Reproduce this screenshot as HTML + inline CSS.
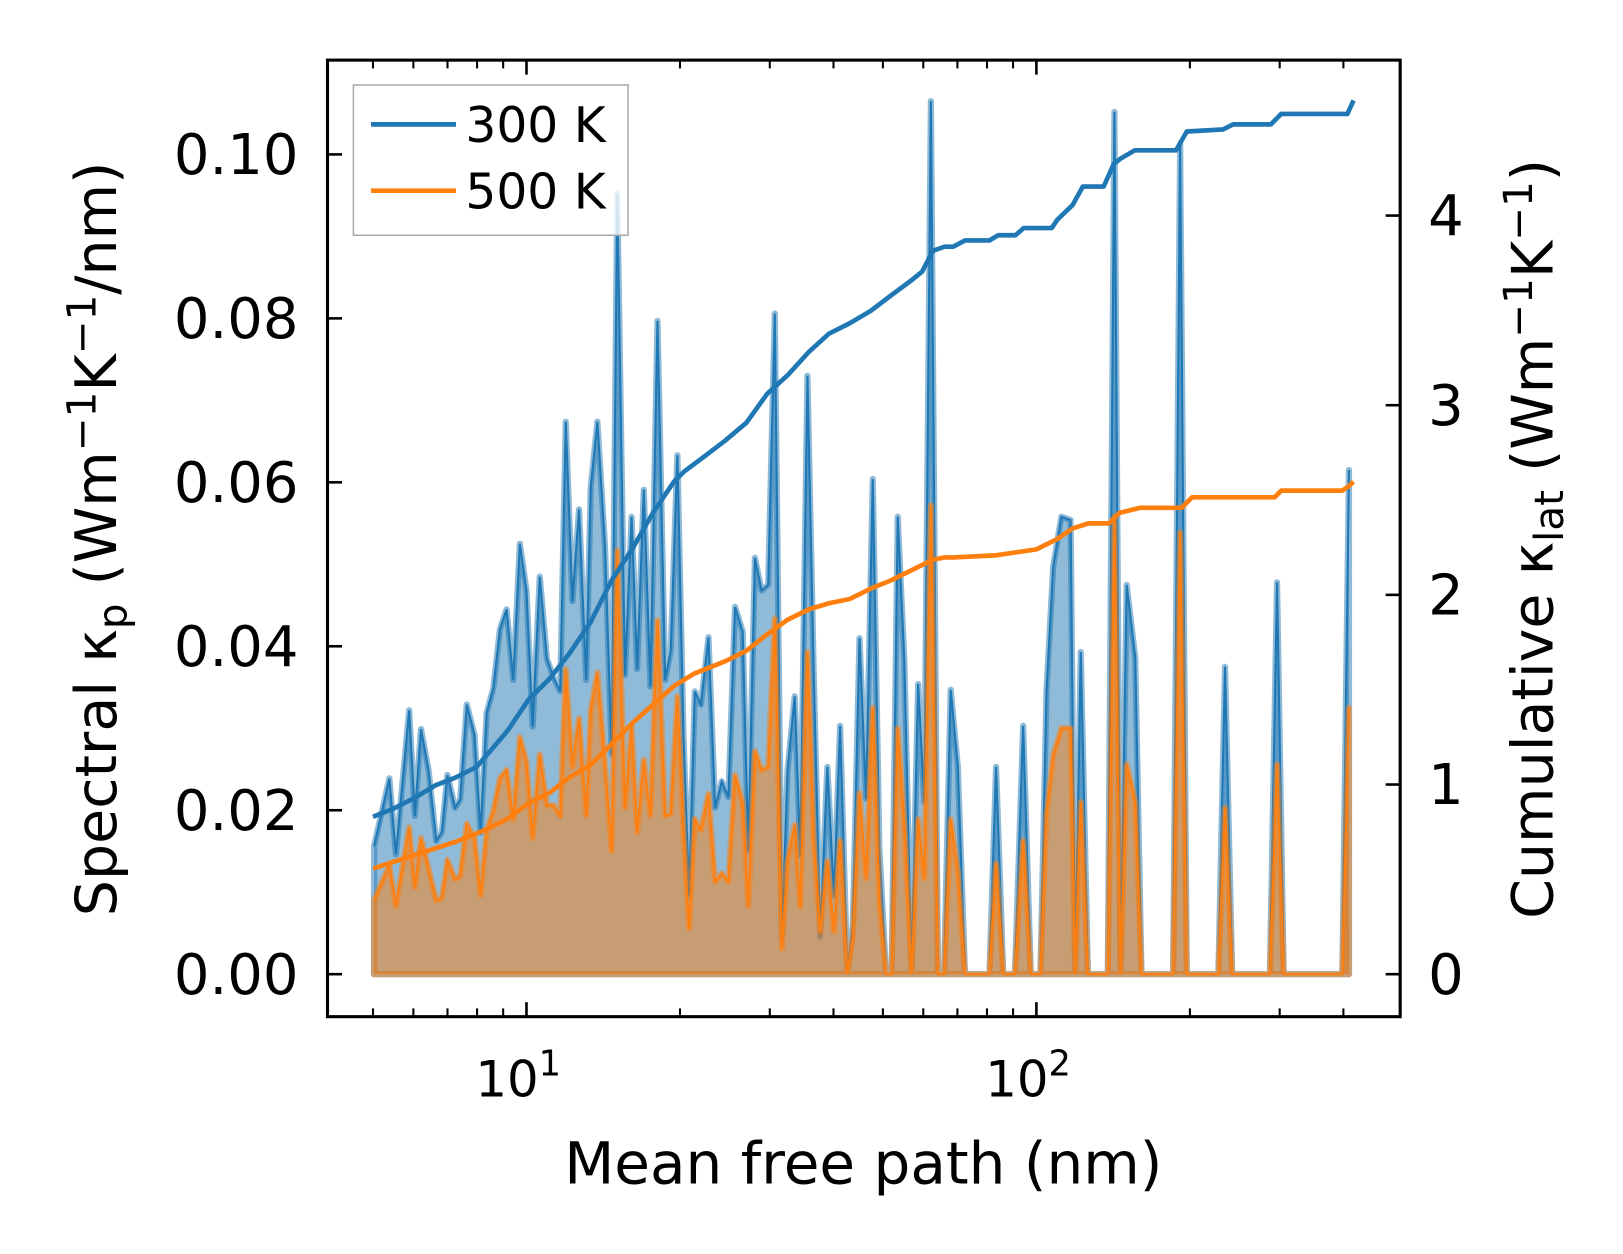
<!DOCTYPE html>
<html><head><meta charset="utf-8"><style>
html,body{margin:0;padding:0;background:#fff}
svg{display:block}
text{font-family:"DejaVu Sans","Liberation Sans",sans-serif;fill:#000}
</style></head><body>
<svg id="chart" width="1623" height="1254" viewBox="0 0 1566 1210" preserveAspectRatio="none" xmlns="http://www.w3.org/2000/svg">
<g id="plot"></g>
<g id="axes"></g>
</svg>
<script>
// ---- data ----
const specLog10Mfp = [0.701,0.731,0.744,0.770,0.781,0.793,0.808,0.823,0.834,0.845,0.860,0.870,0.883,0.898,0.910,0.922,0.935,0.948,0.961,0.974,0.987,1.000,1.012,1.026,1.040,1.053,1.066,1.077,1.090,1.103,1.117,1.126,1.139,1.154,1.167,1.178,1.193,1.206,1.217,1.230,1.243,1.257,1.272,1.283,1.296,1.308,1.319,1.330,1.342,1.357,1.370,1.383,1.396,1.409,1.424,1.435,1.448,1.461,1.474,1.487,
1.501,1.512,1.526,1.537,1.551,1.563,1.576,1.590,1.603,1.615,1.629,1.640,1.653,1.666,1.679,1.692,1.705,1.716,1.728,1.741,1.755,1.768,1.780,1.793,1.807,1.819,1.832,1.846,1.860,1.908,1.921,1.935,1.958,1.974,1.989,2.008,2.020,2.033,2.049,2.067,2.076,2.087,2.101,2.140,2.153,2.165,2.177,2.194,2.206,2.268,2.282,2.295,2.357,2.370,2.384,2.458,2.472,2.485,2.600,2.613];
const spec300 = [0.0156,0.0239,0.0146,0.0322,0.0193,0.0299,0.0249,0.0163,0.0173,0.0243,0.0203,0.0213,0.0329,0.0292,0.0173,0.0319,0.0349,0.0421,0.0445,0.0359,0.0525,0.0468,0.0302,0.0485,0.0385,0.0362,0.0345,0.0674,0.0455,0.0567,0.0359,0.0594,0.0674,0.0521,0.0268,0.0952,0.0365,0.0558,0.0372,0.0591,0.0351,0.0797,0.0359,0.0395,0.0633,0.0289,0.0096,0.0345,0.0329,0.0411,0.0203,0.0235,0.0216,0.0448,0.0418,0.0150,0.0508,0.0468,0.0475,0.0806,
0.0045,0.0249,0.0339,0.0145,0.0730,0.0375,0.0045,0.0253,0.0095,0.0303,0,0.0060,0.0410,0.0214,0.0604,0.0153,0,0,0.0558,0.0382,0,0.0354,0.0210,0.1065,0,0,0.0347,0.0253,0,0,0.0253,0,0,0.0303,0,0,0.0347,0.0497,0.0558,0.0554,0,0.0393,0,0,0.1052,0,0.0475,0.0386,0,0,0.1012,0,0,0.0375,0,0,0.0478,0,0,0.0615];
const spec500 = [0.0090,0.0133,0.0083,0.0179,0.0106,0.0166,0.0129,0.0090,0.0093,0.0139,0.0116,0.0120,0.0183,0.0166,0.0096,0.0176,0.0199,0.0239,0.0249,0.0189,0.0289,0.0259,0.0166,0.0268,0.0206,0.0206,0.0193,0.0372,0.0253,0.0312,0.0193,0.0322,0.0368,0.0256,0.0150,0.0517,0.0203,0.0302,0.0173,0.0262,0.0193,0.0432,0.0193,0.0196,0.0339,0.0173,0.0056,0.0189,0.0176,0.0220,0.0113,0.0123,0.0113,0.0243,0.0209,0.0083,0.0272,0.0249,0.0253,0.0434,
0.0031,0.0138,0.0182,0.0082,0.0393,0.0167,0.0052,0.0138,0.0052,0.0163,0,0.0045,0.0221,0.0117,0.0325,0.0088,0,0,0.0300,0.0182,0,0.0189,0.0117,0.0572,0,0,0.0189,0.0124,0,0,0.0135,0,0,0.0163,0,0,0.0196,0.0267,0.0300,0.0300,0,0.0210,0,0,0.0558,0,0.0256,0.0210,0,0,0.0539,0,0,0.0203,0,0,0.0256,0,0,0.0325];
const cumLog10Mfp300 = [0.699,0.740,0.780,0.821,0.862,0.902,0.923,0.963,1.004,1.045,1.085,1.126,1.167,1.207,1.248,1.289,1.309,1.350,1.390,1.431,1.472,1.512,1.553,1.593,1.634,1.675,1.715,1.756,1.776,1.797,1.820,1.837,1.860,1.878,1.908,1.925,1.959,1.975,2.000,2.030,2.041,2.071,2.091,2.132,2.152,2.165,2.193,2.274,2.295,2.366,2.386,2.460,2.480,2.600,2.610,2.622];
const cum300 = [0.83,0.874,0.929,0.995,1.038,1.093,1.158,1.284,1.448,1.557,1.694,1.858,2.077,2.240,2.432,2.596,2.650,2.732,2.814,2.907,3.060,3.158,3.279,3.377,3.432,3.497,3.579,3.661,3.705,3.814,3.836,3.836,3.869,3.869,3.869,3.896,3.896,3.934,3.934,3.934,3.978,4.055,4.153,4.153,4.273,4.300,4.344,4.344,4.443,4.454,4.481,4.481,4.536,4.536,4.536,4.607];
const cumLog10Mfp500 = [0.699,0.780,0.862,0.923,0.963,1.004,1.045,1.085,1.126,1.167,1.207,1.248,1.289,1.329,1.390,1.431,1.472,1.512,1.553,1.593,1.634,1.675,1.715,1.756,1.797,1.820,1.837,1.919,2.000,2.041,2.071,2.102,2.142,2.163,2.203,2.285,2.305,2.366,2.467,2.480,2.600,2.610,2.622];
const cum500 = [0.557,0.628,0.699,0.765,0.820,0.902,0.956,1.038,1.104,1.213,1.322,1.421,1.519,1.585,1.650,1.705,1.792,1.869,1.923,1.956,1.978,2.033,2.077,2.131,2.186,2.197,2.197,2.208,2.240,2.295,2.350,2.377,2.377,2.432,2.459,2.459,2.514,2.514,2.514,2.550,2.550,2.568,2.596];
const leftTicks = [0,0.02,0.04,0.06,0.08,0.10];
const leftTickLabels = ["0.00","0.02","0.04","0.06","0.08","0.10"];
const rightTicks = [0,1,2,3,4];
const xMajor = [10,100];
const xMinor = [5,6,7,8,9,20,30,40,50,60,70,80,90,200,300,400];

// ---- layout ----
const L=316,R=1351,T=58,B=981;
const xs = lg => 508 + (lg-1)*492;
const yl = v => 940 - v*7910;
const yr = v => 940 - v*183;
const NS='http://www.w3.org/2000/svg';
function mk(parent, tag, attrs){const e=document.createElementNS(NS,tag);for(const k in attrs)e.setAttribute(k,attrs[k]);parent.appendChild(e);return e;}
const plot=document.getElementById('plot'), axes=document.getElementById('axes');

function areaPath(vals){
  let d='M'+xs(specLog10Mfp[0])+','+yl(0);
  specLog10Mfp.forEach((lg,i)=>{d+=' L'+xs(lg).toFixed(1)+','+yl(vals[i]).toFixed(1);});
  d+=' L'+xs(specLog10Mfp[specLog10Mfp.length-1])+','+yl(0)+' Z';return d;
}
function linePath(xsArr, vals, yf){return xsArr.map((lg,i)=>(i?'L':'M')+xs(lg).toFixed(1)+','+yf(vals[i]).toFixed(1)).join(' ');}

const a3=mk(plot,'path',{d:areaPath(spec300),fill:'#1f77b4','fill-opacity':0.5,stroke:'#1f77b4','stroke-opacity':0.5,'stroke-width':6,'stroke-linejoin':'round'});


const l3=mk(plot,'path',{d:linePath(specLog10Mfp,spec300,yl),fill:'none',stroke:'#1f77b4','stroke-width':2});


const a5=mk(plot,'path',{d:areaPath(spec500),fill:'#ff7f0e','fill-opacity':0.5,stroke:'#ff7f0e','stroke-opacity':0.5,'stroke-width':6,'stroke-linejoin':'round'});


const l5=mk(plot,'path',{d:linePath(specLog10Mfp,spec500,yl),fill:'none',stroke:'#ff7f0e','stroke-width':2});


const c3=mk(plot,'path',{d:linePath(cumLog10Mfp300,cum300,yr),fill:'none',stroke:'#1f77b4','stroke-width':4.5,'stroke-linejoin':'round'});


const c5=mk(plot,'path',{d:linePath(cumLog10Mfp500,cum500,yr),fill:'none',stroke:'#ff7f0e','stroke-width':4.5,'stroke-linejoin':'round'});



// ticks
leftTicks.forEach((v,i)=>{
  const t=mk(axes,'line',{x1:L,x2:L+14,y1:yl(v),y2:yl(v),stroke:'#000','stroke-width':2.5});
  
  
  const tx=mk(axes,'text',{x:288,y:yl(v)+19,'text-anchor':'end','font-size':54});
  tx.textContent=leftTickLabels[i];
  
  
});
rightTicks.forEach(v=>{
  const t=mk(axes,'line',{x1:R-14,x2:R,y1:yr(v),y2:yr(v),stroke:'#000','stroke-width':2.5});
  
  
  const tx=mk(axes,'text',{x:1378,y:yr(v)+19,'font-size':54});
  tx.textContent=String(v);
  
  
});
xMajor.forEach(v=>{
  const x=xs(Math.log10(v));
  [[B,B-14],[T,T+14]].forEach(p=>{const t=mk(axes,'line',{x1:x,x2:x,y1:p[0],y2:p[1],stroke:'#000','stroke-width':2.5});
  
  });
  const tx=mk(axes,'text',{x:x-8,y:1058,'text-anchor':'middle','font-size':48});
  tx.innerHTML='10<tspan dy="-20" font-size="34">'+Math.round(Math.log10(v))+'</tspan>';
  
  
});
xMinor.forEach(v=>{
  const x=xs(Math.log10(v));
  [[B,B-8],[T,T+8]].forEach(p=>{const t=mk(axes,'line',{x1:x,x2:x,y1:p[0],y2:p[1],stroke:'#000','stroke-width':2});
  
  });
});
</script>
<svg style="position:absolute;left:0;top:0" width="1623" height="1254" viewBox="0 0 1566 1210" preserveAspectRatio="none" xmlns="http://www.w3.org/2000/svg">
<rect x="316" y="58" width="1035" height="923" fill="none" stroke="#000" stroke-width="3"/>
<g>
<rect x="341" y="82" width="265" height="145" fill="#fff" fill-opacity="0.8" stroke="#aaa" stroke-width="1.5"/>
<line x1="358" x2="440" y1="120" y2="120" stroke="#1f77b4" stroke-width="4.5"/>
<text x="449" y="137" font-size="47">300 K</text>
<line x1="358" x2="440" y1="184" y2="184" stroke="#ff7f0e" stroke-width="4.5"/>
<text x="449" y="201" font-size="47">500 K</text>
</g>
<text x="833" y="1142" text-anchor="middle" font-size="56">Mean free path (nm)</text>
<text transform="translate(112,520) rotate(-90)" text-anchor="middle" font-size="55">Spectral κ<tspan font-size="39" dy="10">p</tspan><tspan dy="-10"> (Wm</tspan><tspan font-size="39" dy="-20">−1</tspan><tspan dy="20">K</tspan><tspan font-size="39" dy="-20">−1</tspan><tspan dy="20">/nm)</tspan></text>
<text transform="translate(1498,520) rotate(-90)" text-anchor="middle" font-size="55">Cumulative κ<tspan font-size="39" dy="10">lat</tspan><tspan dy="-10"> (Wm</tspan><tspan font-size="39" dy="-20">−1</tspan><tspan dy="20">K</tspan><tspan font-size="39" dy="-20">−1</tspan><tspan dy="20">)</tspan></text>
</svg>
</body></html>
